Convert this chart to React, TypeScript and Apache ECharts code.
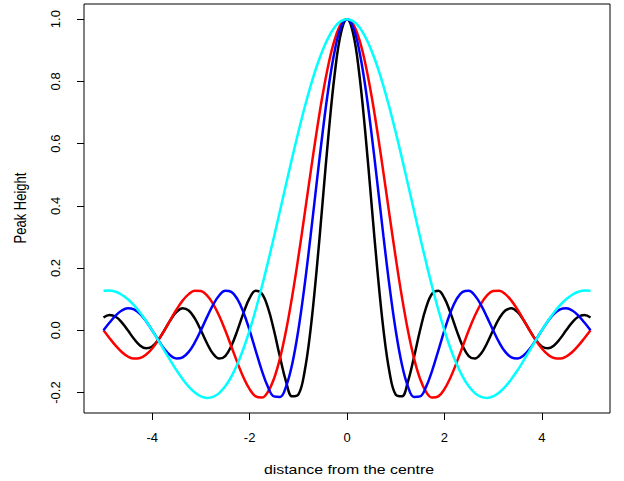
import React, { useEffect, useRef } from "react";
import * as echarts from "echarts";

// x positions (distance from the centre)
const xs = [
  -5, -4.875, -4.75, -4.625, -4.5, -4.375, -4.25, -4.125, -4, -3.875, -3.75, -3.625, -3.5, -3.375, -3.25, -3.125,
  -3, -2.875, -2.75, -2.625, -2.5, -2.375, -2.25, -2.125, -2, -1.875, -1.75, -1.625, -1.5, -1.375, -1.25, -1.125,
  -1, -0.875, -0.75, -0.625, -0.5, -0.375, -0.25, -0.125, 0, 0.125, 0.25, 0.375, 0.5, 0.625, 0.75, 0.875,
  1, 1.125, 1.25, 1.375, 1.5, 1.625, 1.75, 1.875, 2, 2.125, 2.25, 2.375, 2.5, 2.625, 2.75, 2.875,
  3, 3.125, 3.25, 3.375, 3.5, 3.625, 3.75, 3.875, 4, 4.125, 4.25, 4.375, 4.5, 4.625, 4.75, 4.875, 5,
];

const blackY = [
  0.0413, 0.049, 0.0435, 0.0258, 0, -0.0273, -0.0486, -0.0579, -0.0517, -0.0308, 0, 0.0329, 0.0591, 0.0707, 0.0636, 0.0382,
  0, -0.0415, -0.0752, -0.0909, -0.0827, -0.0503, 0, 0.0562, 0.1034, 0.1273, 0.1181, 0.0735, 0, -0.0868, -0.1654, -0.2122,
  -0.2067, -0.1364, 0, 0.191, 0.4135, 0.6366, 0.827, 0.9549, 1, 0.9549, 0.827, 0.6366, 0.4135, 0.191, 0, -0.1364,
  -0.2067, -0.2122, -0.1654, -0.0868, 0, 0.0735, 0.1181, 0.1273, 0.1034, 0.0562, 0, -0.0503, -0.0827, -0.0909, -0.0752, -0.0415,
  0, 0.0382, 0.0636, 0.0707, 0.0591, 0.0329, 0, -0.0308, -0.0517, -0.0579, -0.0486, -0.0273, 0, 0.0258, 0.0435, 0.049, 0.0413,
];

const redY = [
  0, -0.0252, -0.0492, -0.0696, -0.0841, -0.0909, -0.089, -0.078, -0.0585, -0.0317, 0, 0.0339, 0.0668, 0.0954, 0.1164, 0.1273,
  0.1261, 0.112, 0.085, 0.0468, 0, -0.0518, -0.1039, -0.1515, -0.1892, -0.2122, -0.2162, -0.1981, -0.1559, -0.0894, 0, 0.1093,
  0.2339, 0.3679, 0.5046, 0.6366, 0.7568, 0.8584, 0.9355, 0.9836, 1, 0.9836, 0.9355, 0.8584, 0.7568, 0.6366, 0.5046, 0.3679,
  0.2339, 0.1093, 0, -0.0894, -0.1559, -0.1981, -0.2162, -0.2122, -0.1892, -0.1515, -0.1039, -0.0518, 0, 0.0468, 0.085, 0.112,
  0.1261, 0.1273, 0.1164, 0.0954, 0.0668, 0.0339, 0, -0.0317, -0.0585, -0.078, -0.089, -0.0909, -0.0841, -0.0696, -0.0492, -0.0252, 0,
];

const blueY = [
  0, 0.025, 0.0474, 0.0636, 0.0707, 0.0672, 0.053, 0.0295, 0, -0.0314, -0.06, -0.0811, -0.0909, -0.0871, -0.0693, -0.039,
  0, 0.0424, 0.0818, 0.112, 0.1273, 0.1238, 0.1, 0.0573, 0, -0.065, -0.1286, -0.181, -0.2122, -0.2139, -0.1801, -0.1083,
  0, 0.1392, 0.3001, 0.4705, 0.6366, 0.7842, 0.9003, 0.9745, 1, 0.9745, 0.9003, 0.7842, 0.6366, 0.4705, 0.3001, 0.1392,
  0, -0.1083, -0.1801, -0.2139, -0.2122, -0.181, -0.1286, -0.065, 0, 0.0573, 0.1, 0.1238, 0.1273, 0.112, 0.0818, 0.0424,
  0, -0.039, -0.0693, -0.0871, -0.0909, -0.0811, -0.06, -0.0314, 0, 0.0295, 0.053, 0.0672, 0.0707, 0.0636, 0.0474, 0.025, 0,
];

const cyanY = [
  0.1273, 0.1281, 0.1238, 0.1145, 0.1, 0.0808, 0.0573, 0.0301, 0, -0.0321, -0.065, -0.0976, -0.1286, -0.1568, -0.181, -0.1998,
  -0.2122, -0.2172, -0.2139, -0.2017, -0.1801, -0.1489, -0.1083, -0.0584, 0, 0.0662, 0.1392, 0.2177, 0.3001, 0.385, 0.4705, 0.555,
  0.6366, 0.7136, 0.7842, 0.847, 0.9003, 0.9432, 0.9745, 0.9936, 1, 0.9936, 0.9745, 0.9432, 0.9003, 0.847, 0.7842, 0.7136,
  0.6366, 0.555, 0.4705, 0.385, 0.3001, 0.2177, 0.1392, 0.0662, 0, -0.0584, -0.1083, -0.1489, -0.1801, -0.2017, -0.2139, -0.2172,
  -0.2122, -0.1998, -0.181, -0.1568, -0.1286, -0.0976, -0.065, -0.0321, 0, 0.0301, 0.0573, 0.0808, 0.1, 0.1145, 0.1238, 0.1281, 0.1273,
];

const xTicks = [-4, -2, 0, 2, 4];
const yTicks = [-0.2, 0, 0.2, 0.4, 0.6, 0.8, 1.0];

const FONT = "'Liberation Sans', Arial, Helvetica, sans-serif";

export default function App() {
  const ref = useRef<HTMLDivElement>(null);
  useEffect(() => {
    if (!ref.current) return;
    const chart = echarts.init(ref.current, undefined, { renderer: "svg" });
    const mk = (name: string, ys: number[], color: string) => ({
      name,
      type: "line",
      data: xs.map((x, i) => [x, ys[i]]),
      showSymbol: false,
      smooth: 0.4,
      lineStyle: { color, width: 2.5 },
      itemStyle: { color },
      emphasis: { disabled: true },
    });
    chart.setOption({
      animation: false,
      backgroundColor: "#ffffff",
      grid: {
        left: 84,
        right: 14,
        top: 4,
        bottom: 68,
        show: true,
        borderColor: "#000",
        borderWidth: 1,
        backgroundColor: "transparent",
      },
      xAxis: {
        type: "value",
        position: "bottom",
        min: -5.4,
        max: 5.4,
        axisLine: { show: false, onZero: false },
        splitLine: { show: false },
        axisTick: { show: true, inside: false, length: 7, customValues: xTicks, lineStyle: { color: "#000" } },
        axisLabel: {
          customValues: xTicks,
          color: "#000",
          fontSize: 13,
          fontFamily: FONT,
          margin: 18,
          formatter: (v: number) => String(v),
        },
      },
      yAxis: {
        type: "value",
        position: "left",
        min: -0.2657,
        max: 1.0487,
        axisLine: { show: false, onZero: false },
        splitLine: { show: false },
        axisTick: { show: true, inside: false, length: 7, customValues: yTicks, lineStyle: { color: "#000" } },
        axisLabel: {
          customValues: yTicks,
          color: "#000",
          fontSize: 13,
          fontFamily: FONT,
          rotate: 90,
          margin: 22,
          formatter: (v: number) => v.toFixed(1),
        },
      },
      graphic: [
        {
          type: "text",
          x: 21,
          y: 208,
          rotation: Math.PI / 2,
          scaleY: 1.2,
          style: {
            text: "Peak Height",
            fill: "#000",
            fontSize: 13,
            fontFamily: FONT,
            textAlign: "center",
            textVerticalAlign: "middle",
          },
        },
        {
          type: "text",
          x: 349,
          y: 470,
          scaleX: 1.22,
          style: {
            text: "distance from the centre",
            fill: "#000",
            fontSize: 13,
            fontFamily: FONT,
            textAlign: "center",
            textVerticalAlign: "middle",
          },
        },
      ],
      series: [
        mk("black", blackY, "#000000"),
        mk("red", redY, "#ff0000"),
        mk("blue", blueY, "#0000ff"),
        mk("cyan", cyanY, "#00ffff"),
      ],
    });
    return () => chart.dispose();
  }, []);
  return <div ref={ref} style={{ width: 624, height: 481, position: "absolute", left: 0, top: 0 }} />;
}
